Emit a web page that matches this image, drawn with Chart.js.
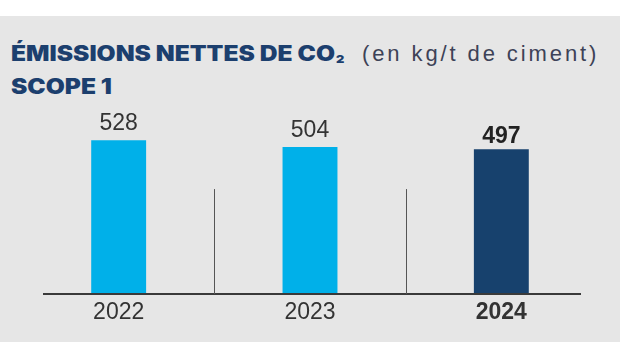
<!DOCTYPE html>
<html>
<head>
<meta charset="utf-8">
<script src="https://cdn.jsdelivr.net/npm/chart.js@4"></script>
<style>
  body { margin: 0; background: #fff; }
  #box { position: absolute; left: 0; top: 16px; width: 620px; height: 326px; background: #e6e6e6; }
  #wrap { position: absolute; left: 0; top: 0; width: 620px; height: 350px; }
  #head { position: absolute; left: 11px; top: 40px; white-space: nowrap; line-height: 28px; }
  .big { display: inline-block; transform: scaleX(1.17); transform-origin: left; font-family: Inter, "DejaVu Sans", sans-serif; font-weight: 900; font-size: 21px; color: #1c3f6e; }
  .big sub { font-size: 11px; vertical-align: -2px; margin-left: 1px; }
  .unit { position: absolute; left: 351px; font-family: "Liberation Sans", Arial, sans-serif; font-size: 22px; letter-spacing: 2.9px; color: #3d4257; }
</style>
</head>
<body>
<div id="box"></div>
<div id="head">
  <div><span class="big">ÉMISSIONS NETTES DE CO<sub>2</sub></span><span class="unit">(en kg/t de ciment)</span></div>
  <div><span class="big">SCOPE 1</span></div>
</div>
<div id="wrap"><canvas id="chart" width="620" height="350"></canvas></div>
<script>
let years = ["2022", "2023", "2024"];
let emissions = [528, 504, 497];
let highlight = [false, false, true];

let lightBlue = "#00b0e9";
let darkBlue = "#17416d";

// axis line + separators between years, and value labels over bars
let decorPlugin = {
  id: "decor",
  afterDatasetsDraw: function (chart) {
    let ctx = chart.ctx;
    let x = chart.scales.x;
    let y = chart.scales.y;
    let zero = y.getPixelForValue(0);
    ctx.save();
    ctx.strokeStyle = "#3a3a3a";
    ctx.lineWidth = 2;
    ctx.beginPath();
    ctx.moveTo(x.left + 20, zero);
    ctx.lineTo(x.right - 16, zero);
    ctx.stroke();
    ctx.strokeStyle = "#555";
    ctx.lineWidth = 1;
    for (let i = 0; i < years.length - 1; i++) {
      let mid = Math.round((x.getPixelForValue(i) + x.getPixelForValue(i + 1)) / 2) + 0.5;
      ctx.beginPath();
      ctx.moveTo(mid, y.getPixelForValue(360));
      ctx.lineTo(mid, zero);
      ctx.stroke();
    }
    let meta = chart.getDatasetMeta(0);
    ctx.textAlign = "center";
    ctx.textBaseline = "alphabetic";
    meta.data.forEach(function (bar, i) {
      ctx.font = (highlight[i] ? "bold " : "") + "23px 'Liberation Sans', Arial, sans-serif";
      ctx.fillStyle = highlight[i] ? "#222" : "#333";
      ctx.fillText(String(emissions[i]), bar.x, bar.y - (highlight[i] ? 6 : 10));
    });
    ctx.restore();
  }
};

let chart = new Chart(document.getElementById("chart").getContext("2d"), {
  type: "bar",
  data: {
    labels: years,
    datasets: [
      {
        data: emissions,
        backgroundColor: highlight.map(function (h) { return h ? darkBlue : lightBlue; }),
        borderWidth: 0,
        categoryPercentage: 1,
        barPercentage: 0.287,
      },
    ],
  },
  options: {
    responsive: false,
    animation: false,
    layout: { padding: { top: 90, bottom: 18, left: 23, right: 23 } },
    plugins: { legend: { display: false }, tooltip: { enabled: false } },
    scales: {
      x: {
        grid: { display: false, drawTicks: false },
        border: { display: false },
        ticks: {
          padding: 7.5,
          color: "#333",
          font: function (c) {
            return { family: "'Liberation Sans', Arial, sans-serif", size: 23, lineHeight: 1, weight: highlight[c.index] ? "bold" : "normal" };
          },
        },
      },
      y: { display: false, min: 0, max: 700 },
    },
  },
  plugins: [decorPlugin],
});
</script>
</body>
</html>
